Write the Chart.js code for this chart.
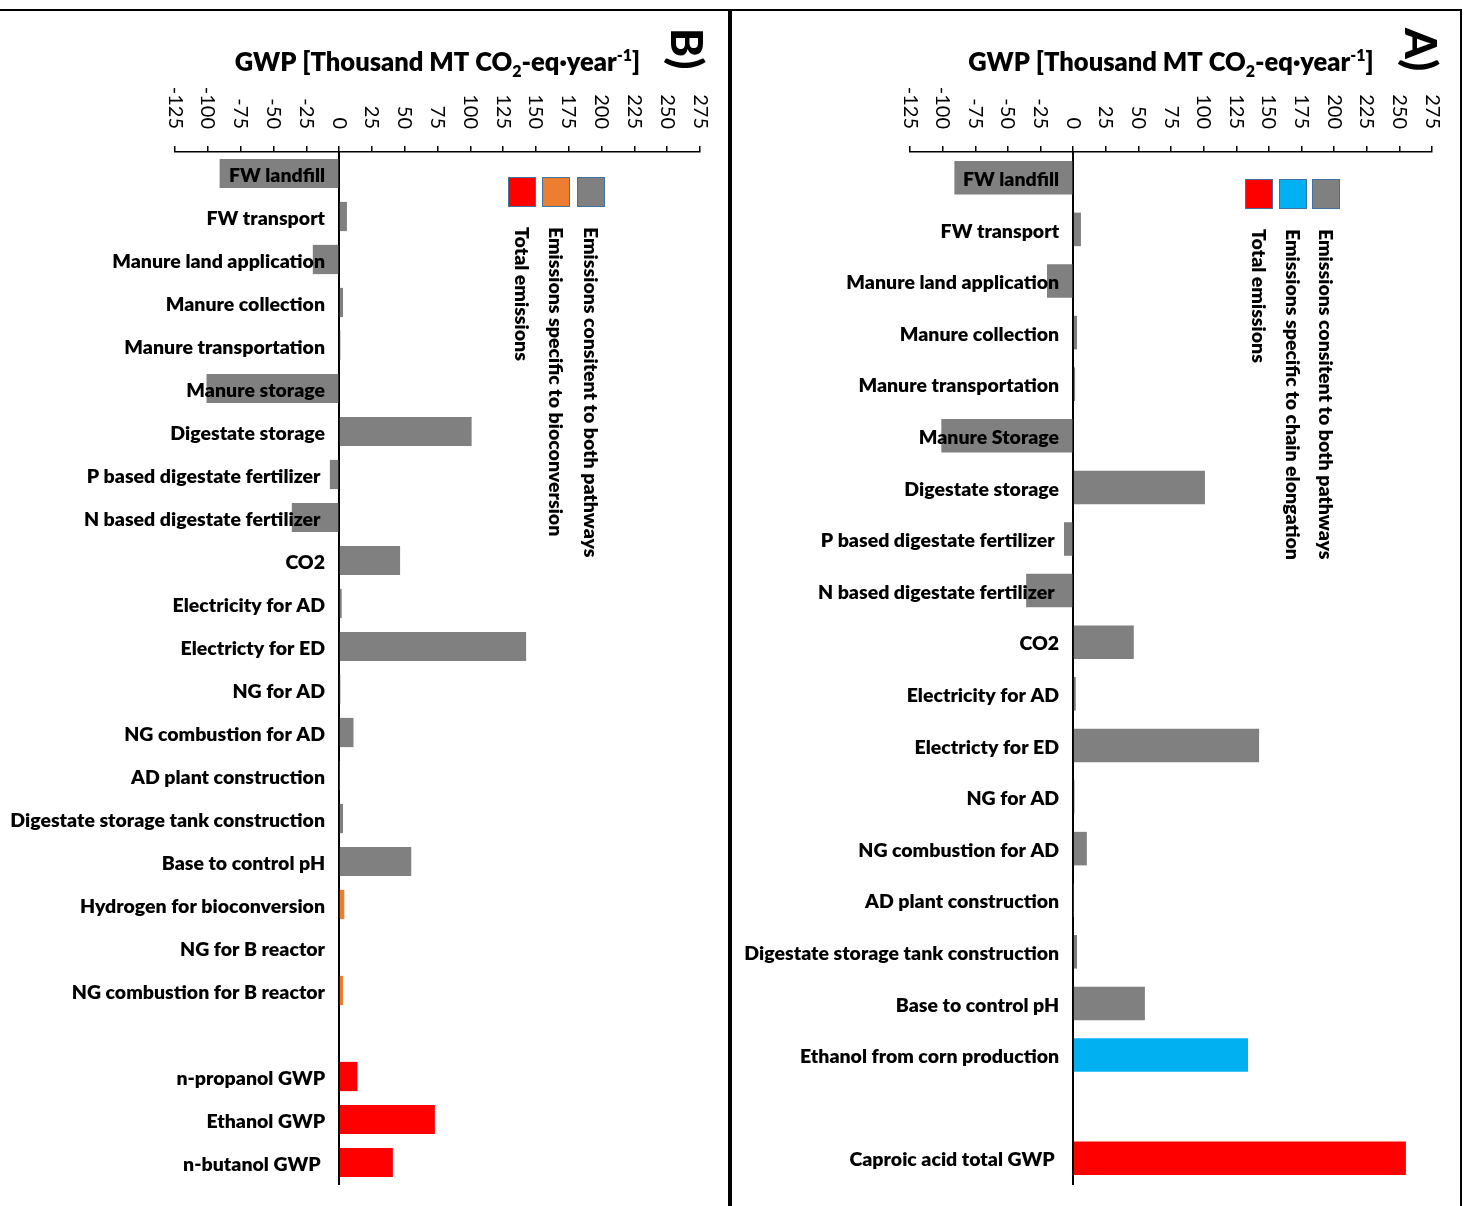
<!DOCTYPE html>
<html>
<head>
<meta charset="utf-8">
<script src="https://cdn.jsdelivr.net/npm/chart.js@4.4.1/dist/chart.umd.min.js"></script>
<style>
  html, body { margin: 0; padding: 0; background: #fff; }
  #wrap { position: relative; width: 1467px; height: 1206px; overflow: hidden; background: #fff; }
  canvas { position: absolute; top: 0; }
  #chartB { left: 0; }
  #chartA { left: 732px; }
  .rule { position: absolute; background: #000; }
</style>
</head>
<body>
<div id="wrap">
  <canvas id="chartB" width="728" height="1206" style="width:728px;height:1206px"></canvas>
  <canvas id="chartA" width="728" height="1206" style="width:728px;height:1206px"></canvas>
  <div class="rule" style="left:0;top:9px;width:1462px;height:2px"></div>
  <div class="rule" style="left:728px;top:9px;width:4px;height:1197px"></div>
  <div class="rule" style="left:1460px;top:9px;width:2px;height:1197px"></div>
</div>
<script>
// ---- GWP axis (thousand MT CO2-eq per year) ----
const xMin = -125;
const xMax = 275;
const xStep = 25;
const xTickLabels = ['-125', '-100', '-75', '-50', '-25', '0', '25', '50', '75', '100',
                     '125', '150', '175', '200', '225', '250', '275'];

// ---- Panel B: bioconversion pathway ----
const categoriesB = [
  'FW landfill', 'FW transport', 'Manure land application', 'Manure collection',
  'Manure transportation', 'Manure storage', 'Digestate storage',
  'P based digestate fertilizer ', 'N based digestate fertilizer ', 'CO2',
  'Electricity for AD', 'Electricty for ED', 'NG for AD', 'NG combustion for AD',
  'AD plant construction', 'Digestate storage tank construction', 'Base to control pH',
  'Hydrogen for bioconversion', 'NG for B reactor', 'NG combustion for B reactor',
  '', 'n-propanol GWP', 'Ethanol GWP', 'n-butanol GWP '
];
const valuesB = [
  -91, 6, -20, 3, 1, -101, 101, -7, -36, 46.5,
  2, 142.5, 1, 11, 0.3, 3, 55,
  4, 0.6, 3,
  null, 14, 73, 41
];
const groupsB = [
  'both', 'both', 'both', 'both', 'both', 'both', 'both', 'both', 'both', 'both',
  'both', 'both', 'both', 'both', 'both', 'both', 'both',
  'specific', 'specific', 'specific',
  'both', 'total', 'total', 'total'
];
const legendLabelsB = ['Total emissions', 'Emissions specific to bioconversion', 'Emissions consitent to both pathways'];

// ---- Panel A: chain elongation pathway ----
const categoriesA = [
  'FW landfill', 'FW transport', 'Manure land application', 'Manure collection',
  'Manure transportation', 'Manure Storage', 'Digestate storage',
  'P based digestate fertilizer ', 'N based digestate fertilizer ', 'CO2',
  'Electricity for AD', 'Electricty for ED', 'NG for AD', 'NG combustion for AD',
  'AD plant construction', 'Digestate storage tank construction', 'Base to control pH',
  'Ethanol from corn production', '', 'Caproic acid total GWP '
];
const valuesA = [
  -91, 6, -20, 3, 1.5, -101, 101, -7, -36, 46.5,
  2, 142.5, 1, 10.5, 0.3, 3, 55,
  134, null, 255
];
const groupsA = [
  'both', 'both', 'both', 'both', 'both', 'both', 'both', 'both', 'both', 'both',
  'both', 'both', 'both', 'both', 'both', 'both', 'both',
  'specific', 'both', 'total'
];
const legendLabelsA = ['Total emissions', 'Emissions specific to chain elongation', 'Emissions consitent to both pathways'];

// ---- styling ----
const FONT = 'Lato, "Open Sans", "Liberation Sans", sans-serif';
const HEAVY = '800 ';
const GRAY = '#808080';
const RED = '#FF0000';
const ORANGE = '#ED7D31';
const BLUE = '#00B0F0';

function verticalText(ctx, text, x, y, align) {
  ctx.save();
  ctx.translate(x, y);
  ctx.rotate(Math.PI / 2);
  ctx.textAlign = align;
  ctx.textBaseline = 'middle';
  ctx.fillText(text, 0, 0);
  ctx.restore();
}

// Draws the rotated tick labels, category labels, title, legend and panel letter.
function annotations(cfg) {
  return {
    id: 'annotations',
    afterDraw(chart) {
      const ctx = chart.ctx;
      const xs = chart.scales.x;
      const ys = chart.scales.y;
      const area = chart.chartArea;
      ctx.save();
      ctx.fillStyle = '#000';

      // value-axis tick labels, reading downwards, ending above the tick marks
      ctx.font = '20px ' + FONT;
      xs.ticks.forEach((t, i) => {
        const label = xTickLabels[i] !== undefined ? xTickLabels[i] : String(t.value);
        verticalText(ctx, label, xs.getPixelForValue(t.value), 129, 'right');
      });

      // category labels just left of the zero line (drawn over the bars)
      ctx.font = HEAVY + '19.5px ' + FONT;
      ctx.textAlign = 'right';
      ctx.textBaseline = 'middle';
      const zeroX = xs.getPixelForValue(0);
      cfg.categories.forEach((c, i) => {
        if (!c) return;
        ctx.fillText(c, zeroX - 14, ys.getPixelForValue(i) + 2);
      });

      // axis title with CO2 subscript and year^-1 superscript
      const big = HEAVY + '25.5px ' + FONT;
      const small = HEAVY + '16px ' + FONT;
      const parts = [
        { t: 'GWP [Thousand MT CO', f: big, dy: 0 },
        { t: '2', f: small, dy: 6 },
        { t: '-eq\u00B7year', f: big, dy: 0 },
        { t: '-1', f: small, dy: -10 },
        { t: ']', f: big, dy: 0 }
      ];
      let total = 0;
      parts.forEach(p => { ctx.font = p.f; p.w = ctx.measureText(p.t).width; total += p.w; });
      let tx = (area.left + area.right) / 2 - total / 2;
      ctx.textAlign = 'left';
      ctx.textBaseline = 'alphabetic';
      parts.forEach(p => { ctx.font = p.f; ctx.fillText(p.t, tx, 71 + p.dy); tx += p.w; });

      // panel letter
      ctx.font = '900 44px ' + FONT;
      verticalText(ctx, cfg.panel, cfg.panelX, 28, 'left');

      // legend: swatches with rotated captions underneath
      ctx.font = HEAVY + '19.5px ' + FONT;
      cfg.legend.forEach((lab, i) => {
        const sx = cfg.legendX[i];
        ctx.fillStyle = cfg.legendColors[i];
        ctx.fillRect(sx, cfg.legendY, 28, 30);
        ctx.strokeStyle = '#41719C';
        ctx.lineWidth = 1;
        ctx.strokeRect(sx + 0.5, cfg.legendY + 0.5, 27, 29);
        ctx.fillStyle = '#000';
        verticalText(ctx, lab, sx + 13, cfg.legendY + 50, 'left');
      });
      ctx.restore();
    }
  };
}

function colorFor(g, specificColor) {
  if (g === 'total') return RED;
  if (g === 'specific') return specificColor;
  return GRAY;
}

function makeChart(id, cfg) {
  const colors = cfg.groups.map(g => colorFor(g, cfg.specificColor));
  return new Chart(document.getElementById(id), {
    type: 'bar',
    data: {
      labels: cfg.categories,
      datasets: [{
        data: cfg.values,
        backgroundColor: colors,
        borderWidth: 0,
        barPercentage: cfg.barPct,
        categoryPercentage: 1
      }]
    },
    options: {
      indexAxis: 'y',
      responsive: false,
      animation: false,
      events: [],
      layout: { padding: { left: cfg.padLeft, right: 28, top: 146, bottom: 22 } },
      plugins: { legend: { display: false }, tooltip: { enabled: false } },
      scales: {
        x: {
          type: 'linear', position: 'top', min: xMin, max: xMax,
          ticks: { stepSize: xStep, display: false },
          grid: { drawOnChartArea: false, drawTicks: true, tickLength: 6, color: '#000', lineWidth: 1.5 },
          border: { display: true, color: '#000', width: 1.5 }
        },
        y: {
          type: 'category', position: { x: 0 }, z: 1,
          ticks: { display: false },
          grid: { display: false },
          border: { display: true, color: '#000', width: 2 }
        }
      }
    },
    plugins: [annotations(cfg)]
  });
}

function build() {
  makeChart('chartB', {
    categories: categoriesB, values: valuesB, groups: groupsB, specificColor: ORANGE,
    barPct: 0.68, padLeft: 175, panel: 'B)', panelX: 685,
    legend: legendLabelsB, legendColors: [RED, ORANGE, GRAY],
    legendX: [508, 542, 577], legendY: 177
  });
  makeChart('chartA', {
    categories: categoriesA, values: valuesA, groups: groupsA, specificColor: BLUE,
    barPct: 0.65, padLeft: 178, panel: 'A)', panelX: 687,
    legend: legendLabelsA, legendColors: [RED, BLUE, GRAY],
    legendX: [513, 547, 580], legendY: 179
  });
}

if (document.fonts && document.fonts.load) {
  Promise.all([
    document.fonts.load('800 19.5px Lato'),
    document.fonts.load('900 44px Lato'),
    document.fonts.load('20px Lato')
  ]).then(build, build);
} else {
  build();
}
</script>
</body>
</html>
